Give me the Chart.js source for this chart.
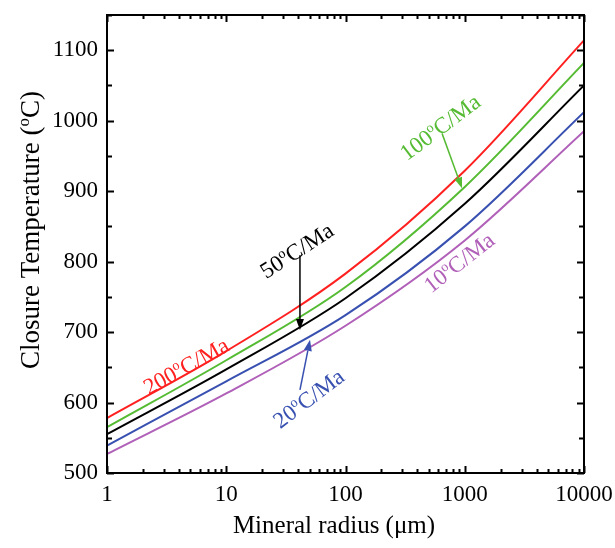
<!DOCTYPE html>
<html>
<head>
<meta charset="utf-8">
<script src="https://cdn.jsdelivr.net/npm/chart.js@4.4.0/dist/chart.umd.min.js"></script>
<style>
  html, body { margin: 0; padding: 0; background: #fff; }
</style>
</head>
<body>
<canvas id="closureChart" width="615" height="548"></canvas>
<script>
// --- DATA --- //
const radius = [1, 10, 100, 1000, 10000];
const rate200 = [578, 673, 783, 929, 1114];
const rate100 = [565, 660, 764, 906, 1082];
const rate50 = [555, 647, 748, 882, 1050];
const rate20 = [539, 630, 724, 850, 1012];
const rate10 = [527, 613, 709, 830, 985];
const xTickLabels = [1, 10, 100, 1000, 10000];
const yTickLabels = [500, 600, 700, 800, 900, 1000, 1100];

const FONT = "'Liberation Serif', 'Times New Roman', serif";

// label posisi dalam koordinat data
const curveLabels = [
  { x: 4.6, y: 652, rot: -29, color: "#ff2020", pre: "200", post: "C/Ma" },
  { x: 620, y: 991, rot: -37, color: "#55bb33", pre: "100", post: "C/Ma" },
  { x: 39, y: 816, rot: -33, color: "#000000", pre: "50", post: "C/Ma" },
  { x: 49, y: 606, rot: -37, color: "#3850b0", pre: "20", post: "C/Ma" },
  { x: 895, y: 799, rot: -38, color: "#b060b8", pre: "10", post: "C/Ma" }
];
const arrows = [
  { x1: 645, y1: 982, x2: 948, y2: 904, color: "#55bb33" },
  { x1: 41.5, y1: 809, x2: 41.5, y2: 703, color: "#000000" },
  { x1: 41.5, y1: 618, x2: 50.4, y2: 689, color: "#3850b0" }
];

// --- HELPER: teks dengan superscript "o" --- //
function drawRich(ctx, cx, cy, angle, size, color, pre, post) {
  ctx.save();
  ctx.translate(cx, cy);
  ctx.rotate(angle * Math.PI / 180);
  ctx.fillStyle = color;
  ctx.textBaseline = "alphabetic";
  ctx.textAlign = "left";
  const supSize = Math.round(size * 0.62);
  ctx.font = size + "px " + FONT;
  const w1 = ctx.measureText(pre).width;
  const w3 = ctx.measureText(post).width;
  ctx.font = supSize + "px " + FONT;
  const w2 = ctx.measureText("o").width;
  let x = -(w1 + w2 + w3) / 2;
  const base = size * 0.33;
  ctx.font = size + "px " + FONT;
  ctx.fillText(pre, x, base);
  x += w1;
  ctx.font = supSize + "px " + FONT;
  ctx.fillText("o", x, base - size * 0.38);
  x += w2;
  ctx.font = size + "px " + FONT;
  ctx.fillText(post, x, base);
  ctx.restore();
}

function drawArrow(ctx, x1, y1, x2, y2, color) {
  const ang = Math.atan2(y2 - y1, x2 - x1);
  const head = 11, half = 4;
  ctx.save();
  ctx.strokeStyle = color;
  ctx.fillStyle = color;
  ctx.lineWidth = 1.5;
  ctx.beginPath();
  ctx.moveTo(x1, y1);
  ctx.lineTo(x2 - Math.cos(ang) * head, y2 - Math.sin(ang) * head);
  ctx.stroke();
  ctx.beginPath();
  ctx.moveTo(x2, y2);
  ctx.lineTo(x2 - Math.cos(ang) * head - Math.sin(ang) * half, y2 - Math.sin(ang) * head + Math.cos(ang) * half);
  ctx.lineTo(x2 - Math.cos(ang) * head + Math.sin(ang) * half, y2 - Math.sin(ang) * head - Math.cos(ang) * half);
  ctx.closePath();
  ctx.fill();
  ctx.restore();
}

// --- PLUGIN: frame, tick ke dalam, judul sumbu, anotasi --- //
const framePlugin = {
  id: "frame",
  afterDraw(chart) {
    const { ctx, chartArea: a, scales } = chart;
    const xs = scales.x, ys = scales.y;

    ctx.save();
    ctx.strokeStyle = "#000";
    ctx.lineWidth = 2;

    // tick sumbu Y (kiri & kanan)
    for (let v = 500; v <= 1150; v += 50) {
      const py = Math.round(ys.getPixelForValue(v)) + 0.5;
      const len = v % 100 === 0 ? 7 : 5;
      ctx.beginPath();
      ctx.moveTo(a.left, py); ctx.lineTo(a.left + len, py);
      ctx.moveTo(a.right, py); ctx.lineTo(a.right - len, py);
      ctx.stroke();
    }

    // tick sumbu X log (bawah & atas)
    for (let d = 1; d <= 10000; d *= 10) {
      for (let k = 1; k <= 9; k++) {
        const v = k * d;
        if (v > 10000) break;
        const px = Math.round(xs.getPixelForValue(v)) + 0.5;
        const len = k === 1 ? 7 : 4;
        ctx.beginPath();
        ctx.moveTo(px, a.bottom); ctx.lineTo(px, a.bottom - len);
        ctx.moveTo(px, a.top); ctx.lineTo(px, a.top + len);
        ctx.stroke();
      }
    }

    ctx.strokeRect(a.left, a.top, a.right - a.left, a.bottom - a.top);
    ctx.restore();

    // judul sumbu
    drawRich(ctx, 30, 230, -90, 27, "#000", "Closure Temperature (", "C)");
    ctx.save();
    ctx.fillStyle = "#000";
    ctx.font = "25px " + FONT;
    ctx.textAlign = "center";
    ctx.textBaseline = "middle";
    ctx.fillText("Mineral radius (\u03bcm)", 334, 526);
    ctx.restore();

    // anotasi kurva
    arrows.forEach(ar => {
      drawArrow(ctx, xs.getPixelForValue(ar.x1), ys.getPixelForValue(ar.y1),
        xs.getPixelForValue(ar.x2), ys.getPixelForValue(ar.y2), ar.color);
    });
    curveLabels.forEach(l => {
      drawRich(ctx, xs.getPixelForValue(l.x), ys.getPixelForValue(l.y), l.rot, 23, l.color, l.pre, l.post);
    });
  }
};

function series(data, color) {
  return {
    data: data.map((v, i) => ({ x: radius[i], y: v })),
    borderColor: color,
    borderWidth: 2,
    pointRadius: 0,
    fill: false,
    cubicInterpolationMode: "monotone"
  };
}

function noPad(s) {
  s.paddingTop = 0; s.paddingBottom = 0; s.paddingLeft = 0; s.paddingRight = 0;
}

// --- CHART --- //
const ctx = document.getElementById("closureChart");
new Chart(ctx, {
  type: "line",
  data: {
    datasets: [
      series(rate200, "#ff2020"),
      series(rate100, "#55bb33"),
      series(rate50, "#000000"),
      series(rate20, "#3850b0"),
      series(rate10, "#b060b8")
    ]
  },
  options: {
    responsive: false,
    animation: false,
    layout: { padding: { top: 15, right: 31, left: 0, bottom: 0 } },
    plugins: { legend: { display: false }, tooltip: { enabled: false } },
    scales: {
      x: {
        type: "logarithmic",
        min: 1,
        max: 10000,
        grid: { display: false, drawTicks: false },
        border: { display: false },
        ticks: {
          autoSkip: false,
          maxRotation: 0,
          padding: 8,
          color: "#000",
          font: { family: FONT, size: 23 },
          callback: v => xTickLabels.includes(v) ? String(v) : ""
        },
        afterFit: s => { s.height = 75; noPad(s); }
      },
      y: {
        min: 500,
        max: 1150,
        grid: { display: false, drawTicks: false },
        border: { display: false },
        ticks: {
          stepSize: 50,
          padding: 9,
          color: "#000",
          font: { family: FONT, size: 23 },
          callback: v => yTickLabels.includes(v) ? String(v) : ""
        },
        afterFit: s => { s.width = 107; noPad(s); }
      }
    }
  },
  plugins: [framePlugin]
});
</script>
</body>
</html>
